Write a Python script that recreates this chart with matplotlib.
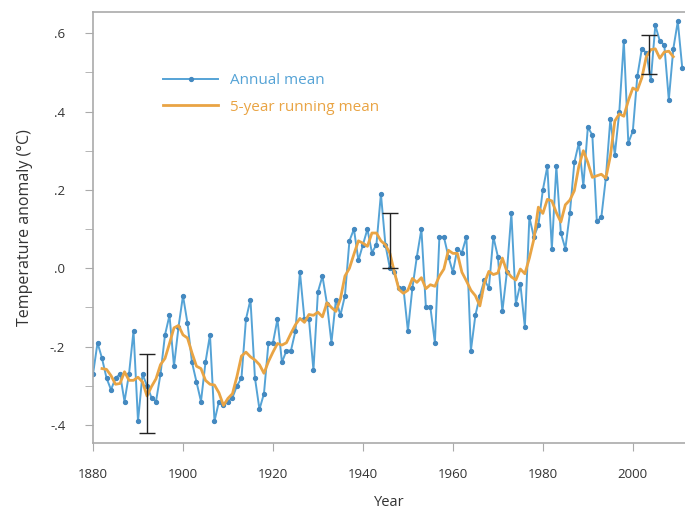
import numpy as np
import pandas as pd
import matplotlib
matplotlib.use("Agg")
import matplotlib.pyplot as plt
from matplotlib.ticker import MultipleLocator

plt.rcParams['font.family'] = ['Open Sans', 'DejaVu Sans']

# annual global temperature anomaly, 1880-2011
annual = [-0.27, -0.19, -0.23, -0.28, -0.31, -0.28, -0.27, -0.34, -0.27, -0.16,
          -0.39, -0.27, -0.30, -0.33, -0.34, -0.27, -0.17, -0.12, -0.25, -0.15,
          -0.07, -0.14, -0.24, -0.29, -0.34, -0.24, -0.17, -0.39, -0.34, -0.35,
          -0.34, -0.33, -0.30, -0.28, -0.13, -0.08, -0.28, -0.36, -0.32, -0.19,
          -0.19, -0.13, -0.24, -0.21, -0.21, -0.16, -0.01, -0.13, -0.13, -0.26,
          -0.06, -0.02, -0.09, -0.19, -0.08, -0.12, -0.07, 0.07, 0.10, 0.02,
          0.06, 0.10, 0.04, 0.06, 0.19, 0.06, 0.00, -0.01, -0.05, -0.05,
          -0.16, -0.05, 0.03, 0.10, -0.10, -0.10, -0.19, 0.08, 0.08, 0.03,
          -0.01, 0.05, 0.04, 0.08, -0.21, -0.12, -0.07, -0.03, -0.05, 0.08,
          0.03, -0.11, -0.01, 0.14, -0.09, -0.04, -0.15, 0.13, 0.08, 0.11,
          0.20, 0.26, 0.05, 0.26, 0.09, 0.05, 0.14, 0.27, 0.32, 0.21,
          0.36, 0.34, 0.12, 0.13, 0.23, 0.38, 0.29, 0.40, 0.58, 0.32,
          0.35, 0.49, 0.56, 0.55, 0.48, 0.62, 0.58, 0.57, 0.43, 0.56,
          0.63, 0.51]
years = np.arange(1880, 1880 + len(annual))

# uncertainty bars
err_years = [1892, 1946, 2003.5]
err_mid = [-0.32, 0.07, 0.545]
err_half = [0.10, 0.07, 0.05]

ytick_vals = [-0.4, -0.2, 0.0, 0.2, 0.4, 0.6]
ytick_labels = ["-.4", "-.2", ".0", ".2", ".4", ".6"]

running = pd.Series(annual, index=years).rolling(5, center=True).mean()

blue = "#55a3d6"
orange = "#e9a444"

fig = plt.figure(figsize=(6.85, 5.11), dpi=100)
ax = fig.add_axes([0.1358, 0.133, 0.8642, 0.8435])

ax.plot(years, annual, color=blue, lw=1.4, marker="o", ms=2.8,
        mfc="#4489c0", mec="#4489c0", label="Annual mean", zorder=2)
ax.plot(running.index, running.values, color=orange, lw=2.0,
        label="5-year running mean", zorder=3)
ax.errorbar(err_years, err_mid, yerr=err_half, fmt="none", ecolor="#222222",
            elinewidth=1.0, capsize=6, capthick=1.0, zorder=4)

ax.set_xlim(1880, 2011.6)
ax.set_ylim(-0.446, 0.654)
ax.set_xticks(range(1880, 2001, 20))
ax.set_yticks(ytick_vals)
ax.set_yticklabels(ytick_labels)
ax.yaxis.set_minor_locator(MultipleLocator(0.1))

for s in ["left", "bottom", "top"]:
    ax.spines[s].set_color("#aaaaaa")
    ax.spines[s].set_linewidth(1.2)
ax.spines["right"].set_visible(False)
ax.tick_params(which="both", direction="out", color="#aaaaaa", labelcolor="#333333",
               labelsize=9.5, length=6)
ax.tick_params(axis="y", pad=14)
ax.tick_params(axis="x", pad=12)

ax.set_xlabel("Year", fontsize=10.5, color="#333333", labelpad=10)
ax.set_ylabel("Temperature anomaly (°C)", fontsize=11.5, color="#333333", labelpad=12)

leg = ax.legend(loc="upper left", bbox_to_anchor=(0.095, 0.89), frameon=False,
                fontsize=11, handlelength=3.6, labelspacing=0.75, labelcolor="linecolor")

fig.savefig("out.png", dpi=100)
